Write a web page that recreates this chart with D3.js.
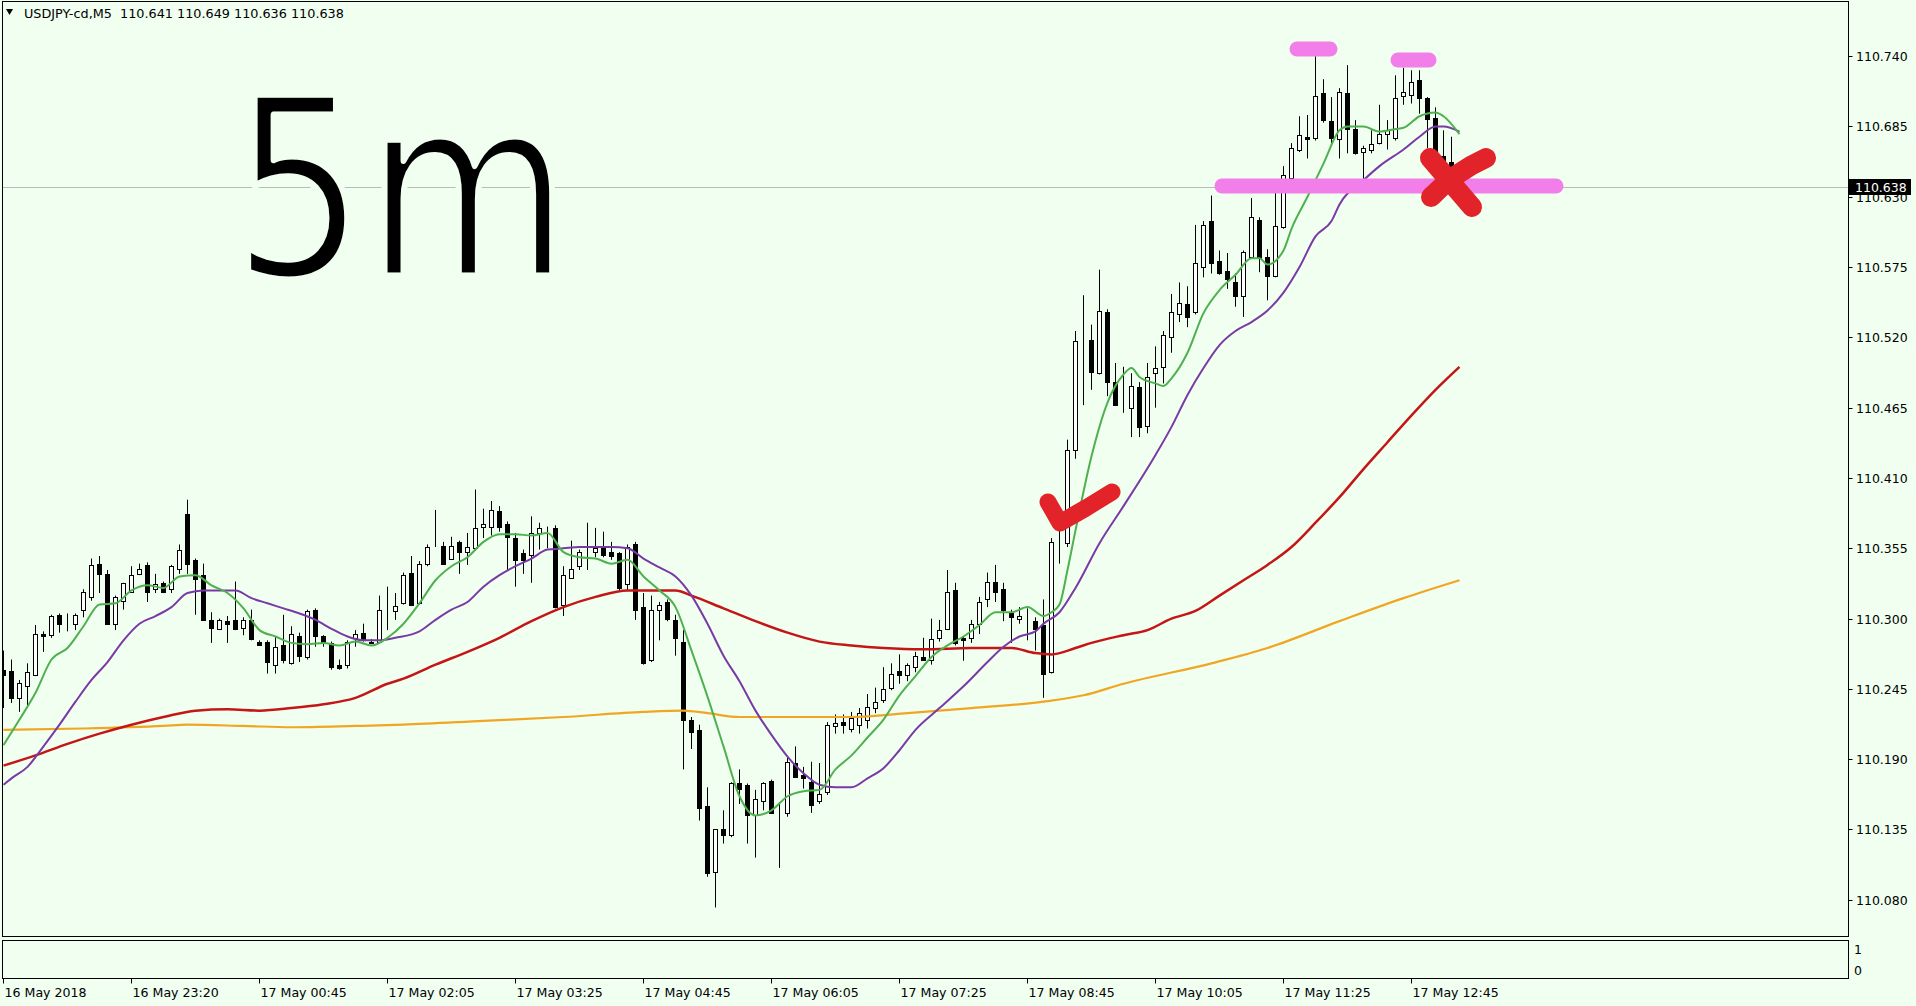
<!DOCTYPE html>
<html><head><meta charset="utf-8">
<script src="https://cdn.jsdelivr.net/npm/d3@7"></script>
<style>
html,body{margin:0;padding:0;background:#f0fff0;overflow:hidden;}
svg{display:block;}
</style></head><body>
<svg id="c" width="1916" height="1006"></svg>
<script>
// ---------- DATA ----------
const opens = [110.260,110.259,110.238,110.247,110.256,110.288,110.287,110.303,110.298,110.296,
110.307,110.317,110.343,110.335,110.296,110.314,110.321,110.335,110.342,110.323,
110.328,110.323,110.339,110.382,110.346,110.334,110.299,110.292,110.298,110.299,
110.293,110.299,110.282,110.282,110.264,110.279,110.265,110.286,110.270,110.307,
110.286,110.281,110.264,110.264,110.285,110.289,110.281,110.282,110.306,110.306,
110.312,110.336,110.312,110.343,110.357,110.357,110.347,110.360,110.352,110.355,
110.372,110.372,110.384,110.374,110.363,110.351,110.350,110.367,110.370,110.371,
110.311,110.332,110.341,110.350,110.352,110.355,110.352,110.351,110.327,110.358,
110.309,110.268,110.307,110.313,110.299,110.282,110.221,110.213,110.153,110.102,
110.135,110.131,110.171,110.170,110.146,110.157,110.173,110.148,110.148,110.187,
110.178,110.172,110.157,110.164,110.216,110.219,110.214,110.217,110.221,110.230,
110.236,110.246,110.259,110.256,110.262,110.270,110.268,110.285,110.292,110.322,
110.285,110.285,110.296,110.315,110.329,110.323,110.304,110.300,110.299,110.298,
110.295,110.258,110.360,110.359,110.432,110.517,110.518,110.492,110.540,110.485,
110.465,110.465,110.481,110.451,110.492,110.497,110.520,110.538,110.546,110.540,
110.575,110.611,110.580,110.572,110.563,110.552,110.583,110.612,110.583,110.568,
110.606,110.645,110.667,110.677,110.676,110.711,110.689,110.675,110.711,110.683,
110.665,110.667,110.672,110.679,110.676,110.709,110.710,110.721,110.707,110.692,
110.662,110.657,110.641];
const highs = [110.275,110.268,110.252,110.265,110.295,110.290,110.303,110.304,110.304,110.304,
110.323,110.347,110.349,110.338,110.318,110.328,110.341,110.343,110.344,110.335,
110.329,110.342,110.358,110.393,110.347,110.343,110.305,110.300,110.302,110.329,
110.301,110.307,110.283,110.283,110.286,110.303,110.294,110.289,110.307,110.308,
110.287,110.282,110.268,110.283,110.291,110.296,110.284,110.318,110.325,110.320,
110.336,110.349,110.345,110.358,110.385,110.360,110.364,110.361,110.367,110.401,
110.386,110.392,110.388,110.376,110.367,110.354,110.380,110.375,110.372,110.373,
110.341,110.361,110.354,110.375,110.371,110.368,110.360,110.352,110.358,110.360,
110.320,110.318,110.313,110.315,110.303,110.291,110.223,110.217,110.168,110.135,
110.150,110.172,110.182,110.171,110.166,110.172,110.174,110.155,110.191,110.200,
110.184,110.188,110.187,110.219,110.225,110.225,110.227,110.230,110.241,110.246,
110.262,110.265,110.272,110.265,110.274,110.285,110.300,110.299,110.338,110.328,
110.286,110.299,110.317,110.336,110.342,110.328,110.307,110.309,110.308,110.301,
110.315,110.363,110.369,110.440,110.525,110.553,110.530,110.573,110.542,110.500,
110.497,110.492,110.485,110.500,110.513,110.525,110.554,110.563,110.560,110.608,
110.611,110.631,110.588,110.586,110.570,110.588,110.629,110.614,110.589,110.633,
110.654,110.672,110.693,110.694,110.740,110.722,110.708,110.715,110.733,110.690,
110.670,110.682,110.702,110.690,110.725,110.731,110.729,110.729,110.708,110.700,
110.682,110.677,110.649];
const lows = [110.230,110.234,110.227,110.230,110.255,110.274,110.285,110.289,110.290,110.291,
110.301,110.314,110.320,110.296,110.291,110.307,110.320,110.334,110.313,110.320,
110.320,110.320,110.335,110.335,110.303,110.299,110.281,110.291,110.281,110.291,
110.287,110.283,110.279,110.257,110.257,110.265,110.264,110.266,110.268,110.278,
110.278,110.260,110.260,110.261,110.278,110.282,110.280,110.281,110.291,110.299,
110.311,110.311,110.311,110.341,110.356,110.342,110.346,110.335,110.342,110.353,
110.363,110.365,110.368,110.338,110.325,110.335,110.328,110.354,110.355,110.308,
110.302,110.331,110.338,110.338,110.348,110.348,110.346,110.322,110.322,110.299,
110.264,110.266,110.283,110.298,110.271,110.182,110.198,110.142,110.098,110.074,
110.124,110.129,110.155,110.124,110.113,110.150,110.148,110.105,110.145,110.176,
110.167,110.148,110.155,110.162,110.210,110.210,110.211,110.210,110.214,110.226,
110.234,110.244,110.249,110.251,110.258,110.268,110.264,110.282,110.291,110.279,
110.267,110.281,110.288,110.309,110.313,110.298,110.281,110.296,110.283,110.275,
110.238,110.257,110.343,110.356,110.425,110.467,110.479,110.491,110.474,110.467,
110.461,110.442,110.442,110.445,110.465,110.484,110.508,110.532,110.528,110.538,
110.567,110.570,110.569,110.558,110.544,110.536,110.582,110.571,110.549,110.567,
110.605,110.644,110.665,110.660,110.674,110.688,110.672,110.660,110.664,110.663,
110.644,110.664,110.671,110.667,110.674,110.702,110.703,110.695,110.668,110.660,
110.656,110.643,110.636];
const closes = [110.256,110.238,110.250,110.258,110.288,110.286,110.302,110.296,110.298,110.303,
110.321,110.342,110.335,110.296,110.317,110.328,110.334,110.339,110.321,110.327,
110.321,110.341,110.354,110.343,110.331,110.299,110.293,110.299,110.296,110.292,
110.299,110.284,110.279,110.266,110.278,110.268,110.288,110.271,110.306,110.286,
110.281,110.262,110.261,110.282,110.288,110.284,110.282,110.307,110.306,110.310,
110.334,110.311,110.343,110.356,110.357,110.343,110.357,110.352,110.356,110.371,
110.374,110.385,110.372,110.364,110.346,110.346,110.367,110.371,110.370,110.309,
110.334,110.339,110.352,110.350,110.355,110.350,110.349,110.324,110.356,110.307,
110.265,110.307,110.311,110.300,110.285,110.221,110.211,110.152,110.101,110.135,
110.131,110.171,110.167,110.146,110.159,110.171,110.148,110.148,110.188,110.176,
110.175,110.154,110.163,110.217,110.218,110.217,110.222,110.226,110.231,110.235,
110.245,110.257,110.256,110.264,110.271,110.268,110.284,110.291,110.321,110.281,
110.283,110.296,110.313,110.329,110.321,110.307,110.301,110.302,110.299,110.292,
110.257,110.360,110.360,110.432,110.517,110.517,110.493,110.541,110.485,110.467,
110.465,110.482,110.450,110.489,110.496,110.522,110.540,110.547,110.536,110.578,
110.608,110.578,110.570,110.566,110.552,110.587,110.614,110.582,110.568,110.607,
110.647,110.668,110.678,110.675,110.709,110.690,110.676,110.712,110.683,110.664,
110.668,110.671,110.679,110.682,110.707,110.712,110.720,110.707,110.691,110.663,
110.657,110.645,110.638];

// moving averages: [bar index, value]
const maGreen = [[0,110.201],[2,110.221],[4,110.242],[6,110.268],[8,110.277],[10,110.294],[12,110.311],[14,110.312],[16,110.322],[18,110.326],[20,110.324],[22,110.333],[24,110.334],[26,110.326],[28,110.320],[30,110.308],[32,110.291],[34,110.286],[36,110.281],[38,110.280],[40,110.281],[42,110.279],[44,110.282],[46,110.279],[48,110.285],[50,110.296],[52,110.312],[54,110.330],[56,110.341],[58,110.348],[60,110.360],[62,110.366],[64,110.366],[66,110.365],[68,110.367],[70,110.352],[72,110.348],[74,110.347],[76,110.343],[78,110.346],[80,110.333],[82,110.322],[84,110.309],[86,110.275],[88,110.239],[90,110.200],[92,110.161],[94,110.146],[96,110.150],[98,110.161],[100,110.165],[102,110.166],[104,110.182],[106,110.193],[108,110.207],[110,110.221],[112,110.240],[114,110.255],[116,110.270],[118,110.279],[120,110.286],[122,110.295],[124,110.305],[126,110.305],[128,110.309],[130,110.302],[131,110.305],[132,110.311],[133,110.338],[134,110.369],[136,110.427],[138,110.469],[140,110.491],[141,110.496],[142,110.489],[144,110.484],[145,110.482],[146,110.488],[148,110.508],[150,110.539],[152,110.557],[154,110.569],[156,110.582],[157,110.582],[158,110.577],[160,110.588],[161,110.605],[163,110.630],[165,110.656],[167,110.682],[168,110.685],[170,110.685],[172,110.681],[174,110.683],[175,110.684],[177,110.693],[179,110.696],[180,110.693],[182,110.679]];
const maPurple = [[0,110.170],[1,110.175],[3,110.184],[5,110.200],[7,110.217],[9,110.235],[11,110.252],[13,110.266],[15,110.283],[17,110.296],[19,110.302],[21,110.309],[23,110.320],[25,110.322],[27,110.322],[29,110.322],[31,110.316],[33,110.312],[35,110.308],[37,110.304],[39,110.299],[41,110.292],[43,110.286],[45,110.283],[47,110.283],[49,110.285],[52,110.290],[54,110.299],[56,110.307],[58,110.313],[60,110.325],[62,110.334],[64,110.341],[66,110.347],[68,110.354],[70,110.355],[72,110.356],[74,110.356],[76,110.356],[78,110.355],[80,110.347],[82,110.340],[84,110.333],[86,110.318],[88,110.296],[90,110.271],[92,110.251],[94,110.228],[96,110.209],[98,110.192],[100,110.179],[102,110.170],[104,110.168],[106,110.168],[108,110.175],[110,110.183],[112,110.197],[114,110.213],[117,110.230],[120,110.247],[123,110.266],[125,110.278],[127,110.286],[129,110.290],[130,110.296],[132,110.305],[134,110.324],[137,110.359],[140,110.388],[144,110.428],[146,110.450],[148,110.475],[150,110.496],[152,110.514],[154,110.525],[156,110.532],[158,110.541],[160,110.555],[162,110.575],[164,110.599],[166,110.611],[167,110.624],[170,110.643],[172,110.654],[175,110.667],[177,110.677],[179,110.685],[180,110.685],[182,110.681]];
const maRed = [[0,110.185],[4,110.193],[8,110.202],[12,110.210],[16,110.217],[20,110.223],[24,110.228],[28,110.229],[32,110.228],[36,110.230],[40,110.233],[44,110.238],[48,110.249],[50,110.253],[54,110.264],[58,110.274],[62,110.285],[66,110.298],[70,110.309],[74,110.317],[78,110.322],[82,110.322],[84,110.322],[86,110.318],[90,110.308],[94,110.298],[98,110.289],[102,110.282],[106,110.279],[110,110.277],[115,110.276],[121,110.277],[126,110.277],[129,110.273],[131,110.272],[134,110.277],[136,110.281],[140,110.287],[143,110.291],[146,110.300],[149,110.306],[152,110.318],[155,110.330],[158,110.342],[161,110.356],[164,110.375],[167,110.395],[170,110.417],[173,110.438],[176,110.459],[179,110.479],[182,110.497]];
const maOrange = [[0,110.213],[10,110.214],[20,110.216],[23,110.217],[30,110.216],[36,110.215],[44,110.216],[50,110.217],[60,110.220],[70,110.223],[80,110.227],[85,110.228],[88,110.226],[92,110.223],[100,110.223],[106,110.223],[113,110.226],[121,110.230],[130,110.235],[135,110.240],[140,110.249],[151,110.265],[158,110.277],[167,110.298],[175,110.316],[182,110.330]];

const timeLabels = ["16 May 2018","16 May 23:20","17 May 00:45","17 May 02:05","17 May 03:25","17 May 04:45","17 May 06:05","17 May 07:25","17 May 08:45","17 May 10:05","17 May 11:25","17 May 12:45"];
const timeLabelBars = [0,16,32,48,64,80,96,112,128,144,160,176];
const priceTicks = [110.080,110.135,110.190,110.245,110.300,110.355,110.410,110.465,110.520,110.575,110.630,110.685,110.740];
const lastPrice = 110.638;
const headerText = "USDJPY-cd,M5  110.641 110.649 110.636 110.638";
const subTicks = ["1","0"];

// ---------- DRAW ----------
(function(){
const svg = d3.select("#c");
const W = 1916, H = 1006;
const bg = "#f0fff0";
const pLeft = 2.5, pRight = 1848.5, pTop = 1.5, pBottom = 936.5;
const subTop = 940.5, subBottom = 978.5;

svg.append("rect").attr("width",W).attr("height",H).attr("fill",bg);

const x = d3.scaleLinear().domain([0,1]).range([3.5,11.5]);
const y = d3.scaleLinear().domain([110.080,110.740]).range([899.8,56.2]);

svg.append("rect").attr("x",pLeft).attr("y",pTop).attr("width",pRight-pLeft).attr("height",pBottom-pTop)
  .attr("fill","none").attr("stroke","#000").attr("stroke-width",1);
svg.append("rect").attr("x",pLeft).attr("y",subTop).attr("width",pRight-pLeft).attr("height",subBottom-subTop)
  .attr("fill","none").attr("stroke","#000").attr("stroke-width",1);

const clip = svg.append("defs").append("clipPath").attr("id","pc");
clip.append("rect").attr("x",pLeft+0.5).attr("y",pTop+0.5).attr("width",pRight-pLeft-1).attr("height",pBottom-pTop-1);
const plot = svg.append("g").attr("clip-path","url(#pc)");

const lp = Math.round(y(lastPrice))+0.5;
plot.append("line").attr("x1",pLeft).attr("x2",pRight).attr("y1",lp).attr("y2",lp)
  .attr("stroke","#b8bdb8").attr("stroke-width",1);

const bars = d3.range(opens.length).map(i=>({i,o:opens[i],h:highs[i],l:lows[i],c:closes[i]}));
const cg = plot.append("g");
cg.selectAll("line").data(bars).join("line")
  .attr("x1",d=>x(d.i)).attr("x2",d=>x(d.i))
  .attr("y1",d=>y(d.h)).attr("y2",d=>y(d.l))
  .attr("stroke","#000").attr("stroke-width",1);
cg.selectAll("rect").data(bars).join("rect")
  .attr("x",d=>x(d.i)-2).attr("width",4)
  .attr("y",d=>Math.round(y(Math.max(d.o,d.c)))+0.5)
  .attr("height",d=>Math.max(0,Math.round(y(Math.min(d.o,d.c)))-Math.round(y(Math.max(d.o,d.c)))))
  .attr("fill",d=>d.c>=d.o?"#ffffff":"#000000")
  .attr("stroke","#000").attr("stroke-width",1);

const line = d3.line().x(d=>x(d[0])).y(d=>y(d[1])).curve(d3.curveMonotoneX);
const mas = [[maOrange,"#f0a623",2.2],[maRed,"#c41616",2.5],[maPurple,"#7a3aa6",2],[maGreen,"#4fb04f",2]];
mas.forEach(([data,col,w])=>{
  plot.append("path").attr("d",line(data)).attr("fill","none").attr("stroke",col).attr("stroke-width",w)
    .attr("stroke-linejoin","round");
});

const ax = svg.append("g").attr("font-family","DejaVu Sans, Verdana, sans-serif").attr("font-size","12.5px").attr("fill","#000");
priceTicks.forEach(p=>{
  const yy = Math.round(y(p))+0.5;
  ax.append("line").attr("x1",pRight).attr("x2",pRight+4).attr("y1",yy).attr("y2",yy).attr("stroke","#000");
  ax.append("text").attr("x",1856).attr("y",yy).attr("dy","0.36em").text(p.toFixed(3));
});
const ly = Math.round(y(lastPrice));
ax.append("rect").attr("x",1849).attr("y",ly-8).attr("width",62).attr("height",16).attr("fill","#000");
ax.append("text").attr("x",1855).attr("y",ly).attr("dy","0.36em").attr("fill","#fff").text(lastPrice.toFixed(3));
ax.append("text").attr("x",1854).attr("y",949).attr("dy","0.36em").text(subTicks[0]);
ax.append("text").attr("x",1854).attr("y",970).attr("dy","0.36em").text(subTicks[1]);

const tx = svg.append("g").attr("font-family","DejaVu Sans, Verdana, sans-serif").attr("font-size","12.6px").attr("fill","#000");
timeLabelBars.forEach((b,k)=>{
  const xx = Math.round(x(b)-0.5)+0.5;
  tx.append("line").attr("x1",xx).attr("x2",xx).attr("y1",subBottom).attr("y2",subBottom+5).attr("stroke","#000");
  tx.append("text").attr("x",xx+1).attr("y",997).text(timeLabels[k]);
});

svg.append("path").attr("d","M6,9 L13,9 L9.5,15 Z").attr("fill","#000");
svg.append("text").attr("x",24).attr("y",18).attr("font-family","DejaVu Sans, Verdana, sans-serif")
  .attr("font-size","12.8px").style("white-space","pre").text(headerText);

const ann = svg.append("g").attr("fill","none").attr("stroke-linecap","round").attr("stroke-linejoin","round");
const pink = "#f27ee9";
ann.append("path").attr("d","M1222,186 L1556,186").attr("stroke",pink).attr("stroke-width",15);
ann.append("path").attr("d","M1297,49 L1330,49").attr("stroke",pink).attr("stroke-width",15);
ann.append("path").attr("d","M1398,60 L1429,60").attr("stroke",pink).attr("stroke-width",15);
const red = "#e3232a";
ann.append("path").attr("d","M1048,502 L1060,523 Q1072,516 1086,508 L1112,492").attr("stroke",red).attr("stroke-width",17);
ann.append("path").attr("d","M1430,158 L1472,207").attr("stroke",red).attr("stroke-width",20);
ann.append("path").attr("d","M1431,197 Q1455,172 1486,158").attr("stroke",red).attr("stroke-width",20);

// handwritten "5m" label (thinned with a background-coloured outline)
svg.append("text").attr("transform","translate(232,276) scale(0.84,1)")
  .attr("font-family","DejaVu Sans, sans-serif").attr("font-size","250px")
  .attr("fill","#000").attr("stroke",bg).attr("stroke-width",7).attr("stroke-linejoin","round")
  .text("5m");
})();
</script>
</body></html>
